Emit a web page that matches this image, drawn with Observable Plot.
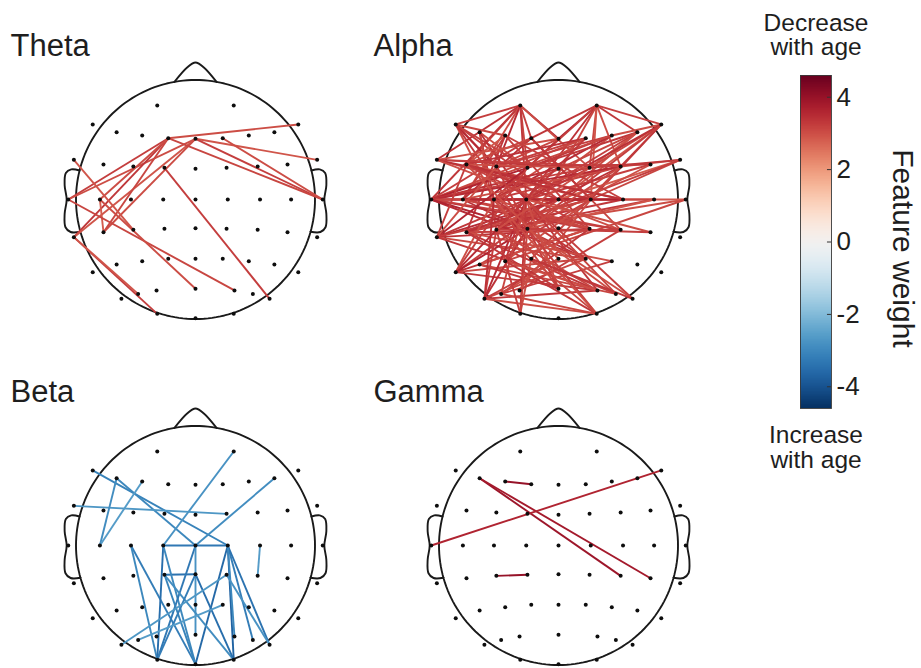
<!DOCTYPE html>
<html>
<head>
<meta charset="utf-8">
<script src="https://cdn.jsdelivr.net/npm/d3@7"></script>
<script src="https://cdn.jsdelivr.net/npm/@observablehq/plot@0.6"></script>
<style>
  html, body { margin: 0; padding: 0; background: #fff; }
  #chart { position: relative; width: 921px; height: 668px; overflow: hidden; }
  #chart > svg { position: absolute; }
</style>
</head>
<body>
<div id="chart"></div>
<script>
// Electrode layout in head units (head radius = 1, v grows toward the back of the head)
const electrodes = [
  ["Fp1", -0.32, -0.787], ["Fp2", 0.32, -0.787],
  ["F7", -0.86, -0.628], ["F5", -0.66, -0.563], ["F3", -0.446, -0.536], ["F1", -0.228, -0.513], ["Fz", 0, -0.508],
  ["F2", 0.228, -0.513], ["F4", 0.446, -0.536], ["F6", 0.66, -0.563], ["F8", 0.86, -0.628],
  ["FT7", -1.018, -0.332], ["FC5", -0.77, -0.293], ["FC3", -0.52, -0.276], ["FC1", -0.26, -0.265], ["FCz", 0, -0.257],
  ["FC2", 0.26, -0.265], ["FC4", 0.52, -0.276], ["FC6", 0.77, -0.293], ["FT8", 1.018, -0.332],
  ["T7", -1.065, 0], ["C5", -0.8, 0], ["C3", -0.54, 0], ["C1", -0.27, 0], ["Cz", 0, 0],
  ["C2", 0.27, 0], ["C4", 0.54, 0], ["C6", 0.8, 0], ["T8", 1.065, 0],
  ["TP7", -1.018, 0.315], ["CP5", -0.77, 0.274], ["CP3", -0.52, 0.254], ["CP1", -0.26, 0.245], ["CPz", 0, 0.24],
  ["CP2", 0.26, 0.245], ["CP4", 0.52, 0.254], ["CP6", 0.77, 0.274], ["TP8", 1.018, 0.315],
  ["P7", -0.86, 0.608], ["P5", -0.66, 0.544], ["P3", -0.446, 0.516], ["P1", -0.228, 0.496], ["Pz", 0, 0.496],
  ["P2", 0.228, 0.496], ["P4", 0.446, 0.516], ["P6", 0.66, 0.544], ["P8", 0.86, 0.608],
  ["PO7", -0.62, 0.831], ["PO5", -0.48, 0.79], ["PO3", -0.326, 0.761], ["POz", 0, 0.747],
  ["PO4", 0.326, 0.761], ["PO6", 0.48, 0.79], ["PO8", 0.62, 0.831],
  ["O1", -0.32, 0.957], ["Oz", 0, 0.993], ["O2", 0.32, 0.957]
];

// Connectivity features per frequency band: [electrode A, electrode B, feature weight]
const thetaLinks = [
  ["T7", "F1", 3.2], ["T7", "Fz", 3.0], ["TP7", "F1", 3.3], ["TP7", "Fz", 2.9], ["CP5", "F1", 3.1],
  ["CP5", "Fz", 3.0], ["C5", "F1", 3.0], ["C5", "CP5", 2.8], ["FT7", "CP3", 2.9], ["T7", "PO4", 3.1],
  ["C5", "POz", 3.0], ["TP7", "O1", 3.2], ["TP7", "PO5", 2.9], ["FC1", "PO8", 3.2], ["F1", "F8", 3.0],
  ["Fz", "FT8", 2.9], ["Fz", "T8", 3.2], ["F1", "T8", 3.1], ["F2", "T8", 3.0]
];

const alphaLinks = [
  ["Fp1", "F7", 3.2], ["Fp1", "FT7", 3.4], ["Fp1", "FC5", 3.1], ["Fp1", "T7", 3.3], ["Fp1", "C5", 3.0],
  ["Fp1", "FC3", 3.5], ["Fp1", "F1", 3.2], ["Fp1", "Fz", 3.6], ["Fp1", "FC1", 3.1], ["Fp1", "C1", 3.3], ["Fp1", "FC2", 3.0],
  ["Fp2", "Fz", 3.7], ["Fp2", "F1", 3.3], ["Fp2", "FC1", 3.2], ["Fp2", "C1", 3.4], ["Fp2", "FC2", 3.1],
  ["Fp2", "FC4", 3.0], ["Fp2", "F6", 3.3], ["Fp2", "F8", 3.2], ["Fp2", "C2", 2.9], ["Fp2", "CP1", 3.1],
  ["F7", "FC3", 3.4], ["F7", "FC1", 3.2], ["F7", "C1", 3.5], ["F7", "C3", 3.0], ["F7", "CP1", 3.3], ["F7", "F3", 3.1], ["F7", "Cz", 3.2],
  ["F5", "FC1", 3.0], ["F5", "C3", 3.3], ["F5", "CP3", 3.1], ["F5", "C1", 3.4],
  ["F3", "C5", 3.2], ["F3", "FC5", 2.9], ["F3", "CP5", 3.3],
  ["F1", "FC5", 3.1], ["F1", "C5", 3.4], ["F1", "T7", 3.2],
  ["Fz", "FT7", 3.0], ["Fz", "C3", 3.3], ["Fz", "FC3", 3.1],
  ["F2", "FC3", 3.2], ["F2", "C3", 3.0], ["F2", "FC5", 3.4], ["F2", "T7", 3.1],
  ["F4", "FC1", 3.3], ["F4", "C1", 3.0], ["F4", "FC3", 3.2], ["F4", "C3", 3.5], ["F4", "T7", 3.1],
  ["F6", "FC2", 2.9], ["F6", "C1", 3.2], ["F6", "Cz", 3.0], ["F6", "FC1", 3.3], ["F6", "C3", 3.1],
  ["F8", "F4", 3.0], ["F8", "FC4", 3.2], ["F8", "C2", 3.3], ["F8", "FC2", 3.1], ["F8", "Cz", 2.9], ["F8", "C1", 3.4], ["F8", "CP1", 3.2],
  ["FT8", "FC4", 3.0], ["FT8", "FC2", 3.3], ["FT8", "C2", 3.1], ["FT8", "Cz", 2.8], ["FT8", "CP3", 3.2],
  ["T8", "CP3", 3.0], ["T8", "C3", 2.9], ["T8", "P3", 3.1],
  ["FC6", "C1", 3.2], ["FC6", "CP1", 3.0], ["FC6", "FC3", 3.3],
  ["C6", "C1", 3.1], ["C6", "CP3", 3.3], ["C6", "CP1", 2.9],
  ["FC4", "C3", 3.2], ["FC4", "CP3", 3.4], ["FC4", "C5", 3.0],
  ["C4", "C5", 3.1], ["C4", "CP5", 3.3], ["C4", "FC5", 3.0], ["C4", "F3", 3.2],
  ["T7", "FC1", 3.6], ["T7", "FCz", 3.4], ["T7", "FC2", 3.2], ["T7", "FC4", 3.5], ["T7", "C2", 3.3],
  ["T7", "C4", 3.7], ["T7", "CP2", 3.4], ["T7", "CP4", 3.2], ["T7", "P2", 3.5], ["T7", "C1", 3.1], ["T7", "CP1", 3.6],
  ["FT7", "FC2", 3.3], ["FT7", "C2", 3.1], ["FT7", "C4", 3.4], ["FT7", "CP4", 3.0], ["FT7", "FC4", 3.2],
  ["FC5", "C2", 3.4], ["FC5", "CP2", 3.2], ["FC5", "FC2", 3.0], ["FC5", "Cz", 3.3],
  ["C5", "C2", 3.5], ["C5", "CP4", 3.2], ["C5", "P2", 3.4], ["C5", "CP2", 3.1],
  ["TP7", "FC1", 3.6], ["TP7", "C1", 3.3], ["TP7", "Cz", 3.5], ["TP7", "C2", 3.2], ["TP7", "CP2", 3.4],
  ["TP7", "P2", 3.1], ["TP7", "PO4", 3.3], ["TP7", "FC3", 3.0], ["TP7", "FC5", 3.2],
  ["CP5", "FC2", 3.3], ["CP5", "C2", 3.1], ["CP5", "Cz", 3.4], ["CP5", "CP4", 3.2], ["CP5", "P4", 3.0], ["CP5", "PO4", 3.3],
  ["C3", "CP2", 3.1], ["C3", "P2", 3.3],
  ["P7", "C1", 3.5], ["P7", "Cz", 3.2], ["P7", "CP2", 3.4], ["P7", "P2", 3.1], ["P7", "PO4", 3.3],
  ["P7", "C3", 3.0], ["P7", "FC1", 3.2], ["P7", "CP1", 3.6],
  ["P5", "C2", 3.2], ["P5", "CP2", 3.0], ["P5", "POz", 3.3], ["P5", "PO6", 3.1],
  ["P3", "C1", 3.3], ["P3", "C2", 3.0], ["P3", "CP1", 3.2],
  ["PO7", "CP1", 3.4], ["PO7", "CP3", 3.2], ["PO7", "C1", 3.5], ["PO7", "P2", 3.1], ["PO7", "PO4", 3.3],
  ["PO7", "O2", 3.0], ["PO7", "Pz", 3.2], ["PO7", "C3", 3.4],
  ["PO5", "C1", 3.1], ["PO5", "CP2", 3.3], ["PO5", "Pz", 3.0], ["PO5", "P4", 3.2], ["PO5", "O2", 3.1],
  ["O1", "CP3", 3.2], ["O1", "P1", 3.0], ["O1", "C1", 3.3], ["O1", "CP1", 3.1],
  ["PO3", "C2", 3.0], ["PO3", "CP4", 3.2],
  ["POz", "C3", 3.1], ["POz", "CP5", 3.3], ["POz", "C1", 3.0], ["POz", "FC3", 3.2],
  ["PO4", "CP3", 3.1], ["PO4", "C1", 3.3], ["PO4", "P3", 3.0],
  ["O2", "CP1", 3.2], ["O2", "C3", 3.0], ["O2", "P3", 3.3], ["O2", "CP3", 3.1],
  ["PO6", "CP1", 3.0], ["PO6", "P1", 3.2], ["PO6", "C1", 3.1],
  ["PO8", "C1", 3.2], ["PO8", "CP1", 3.0], ["PO8", "P1", 3.3],
  ["CP1", "FC4", 3.1], ["CP3", "F2", 3.3], ["CP3", "FC2", 3.0], ["CP3", "CP4", 3.2],
  ["P1", "FC4", 3.1], ["Pz", "FC5", 3.0], ["CP2", "F3", 3.2], ["CP4", "F1", 3.1], ["C2", "F1", 3.3],
  ["CP6", "C1", 3.0], ["CP6", "CP1", 3.2]
];

const betaLinks = [
  ["F7", "C2", -3.1], ["F5", "Cz", -3.0], ["Fp2", "C1", -2.8], ["F6", "Cz", -2.9], ["FT7", "FC2", -2.7],
  ["F5", "C5", -2.9], ["C5", "F3", -2.6], ["C3", "Oz", -3.2], ["C3", "O1", -3.0], ["C1", "C2", -3.3],
  ["CP1", "CPz", -3.4], ["C1", "O1", -3.5], ["C1", "Oz", -3.0], ["Cz", "O1", -3.3], ["Cz", "POz", -2.8],
  ["C2", "Oz", -3.6], ["C2", "O2", -3.7], ["C2", "PO6", -3.2], ["C2", "PO8", -3.4], ["C2", "PO4", -3.0],
  ["CP1", "Oz", -3.1], ["CP1", "O2", -2.9], ["CPz", "O1", -3.2], ["CPz", "O2", -3.5], ["CP2", "PO8", -2.8],
  ["C4", "CP4", -2.6], ["PO7", "CP2", -2.7], ["PO5", "P2", -2.6]
];

const gammaLinks = [
  ["F5", "CP4", 3.9], ["F5", "CP6", 3.8], ["F3", "F1", 4.0], ["CP3", "CP1", 4.0], ["T7", "F8", 3.6]
];

const bandNames = ["Theta", "Alpha", "Beta", "Gamma"];
const bandLinks = [thetaLinks, alphaLinks, betaLinks, gammaLinks];
const bandLeft = [0, 363, 0, 363];
const bandTop = [0, 0, 345.5, 345.5];

const colorbarTicks = [-4, -2, 0, 2, 4];
const colorbarTop = "Decrease\nwith age";
const colorbarBottom = "Increase\nwith age";
const colorbarLabel = "Feature weight";
const weightExtent = [-4.6, 4.6];

// ---- drawing ----
const font = "'Liberation Sans', Arial, Helvetica, sans-serif";
const pos = new Map(electrodes.map(([n, u, v]) => [n, {u, v}]));
const R = 119.5;                 // pixels per head radius
const headW = 363, headH = 322;  // panel size
const cx = 195, cy = 199;        // head centre inside a panel
const color = {type: "linear", scheme: "RdBu", reverse: true, domain: weightExtent};

// Head outline, nose and ears in head units
const outline = d3.range(0, 361, 2).map(a => [Math.cos(a * Math.PI / 180), Math.sin(a * Math.PI / 180)]);
const nose = [[-0.176, -0.984], [-0.07, -1.105], [0, -1.146], [0.07, -1.105], [0.176, -0.984]];
const earL = [[-0.97, -0.243], [-1.04, -0.252], [-1.085, -0.222], [-1.095, -0.12], [-1.078, 0.0],
              [-1.095, 0.12], [-1.088, 0.232], [-1.045, 0.272], [-0.962, 0.27]];
const earR = earL.map(([u, v]) => [-u, v]);

const chart = document.getElementById("chart");
const outlineStyle = {x: d => d[0], y: d => d[1], stroke: "#1a1a1a", strokeWidth: 1.9};

bandNames.forEach((name, i) => {
  const svg = Plot.plot({
    width: headW, height: headH, margin: 0,
    x: {domain: [-cx / R, (headW - cx) / R], axis: null},
    y: {domain: [-cy / R, (headH - cy) / R], reverse: true, axis: null},
    color,
    style: {fontFamily: font, background: "transparent", overflow: "visible"},
    marks: [
      Plot.line(outline, outlineStyle),
      Plot.line(nose, {...outlineStyle, curve: "catmull-rom"}),
      Plot.line(earL, {...outlineStyle, curve: "catmull-rom"}),
      Plot.line(earR, {...outlineStyle, curve: "catmull-rom"}),
      Plot.link(bandLinks[i], {
        x1: d => pos.get(d[0]).u, y1: d => pos.get(d[0]).v,
        x2: d => pos.get(d[1]).u, y2: d => pos.get(d[1]).v,
        stroke: d => d[2], strokeWidth: 1.9
      }),
      Plot.dot(electrodes, {x: d => d[1], y: d => d[2], r: 2, fill: "#0d0d0d"}),
      Plot.text([name], {
        text: d => d, frameAnchor: "top-left", dx: 10, dy: 46,
        textAnchor: "start", lineAnchor: "middle", fontSize: 31, fill: "#1e1e1e"
      })
    ]
  });
  svg.style.left = bandLeft[i] + "px";
  svg.style.top = bandTop[i] + "px";
  chart.appendChild(svg);
});

// Vertical colour bar
const step = 0.02;
const strips = d3.range(weightExtent[0], weightExtent[1], step);
const bar = Plot.plot({
  width: 181, height: 480,
  marginLeft: 60, marginRight: 90, marginTop: 75, marginBottom: 72,
  x: {domain: [0, 1], axis: null},
  y: {domain: weightExtent},
  color,
  style: {fontFamily: font, background: "transparent", overflow: "visible", color: "#1e1e1e"},
  marks: [
    Plot.rect(strips, {
      x1: 0, x2: 1, y1: d => d, y2: d => Math.min(d + 2 * step, weightExtent[1]),
      fill: d => d + step / 2, inset: 0, shapeRendering: "crispEdges"
    }),
    Plot.frame({stroke: "#3a3a3a", strokeWidth: 0.9}),
    Plot.ruleY(colorbarTicks, {y: d => d, x1: 0.87, x2: 1, stroke: "#333", strokeWidth: 1}),
    Plot.axisY({
      ticks: colorbarTicks, anchor: "right", tickSize: 0, tickPadding: 5,
      fontSize: 26, tickFormat: d => String(d), label: null
    }),
    Plot.text([colorbarTop], {
      text: d => d, frameAnchor: "top", dy: -20.5, lineAnchor: "bottom",
      lineHeight: 1.0, fontSize: 24.5, fill: "#1e1e1e"
    }),
    Plot.text([colorbarBottom], {
      text: d => d, frameAnchor: "bottom", dy: 16.6, lineAnchor: "top",
      lineHeight: 1.02, fontSize: 24.5, fill: "#1e1e1e"
    }),
    Plot.text([colorbarLabel], {
      text: d => d, frameAnchor: "right", dx: 71.6, dy: 6.5, rotate: 90,
      textAnchor: "middle", lineAnchor: "middle", fontSize: 30, fill: "#1e1e1e"
    })
  ]
});
bar.style.left = "740px";
bar.style.top = "0px";
chart.appendChild(bar);
</script>
</body>
</html>
